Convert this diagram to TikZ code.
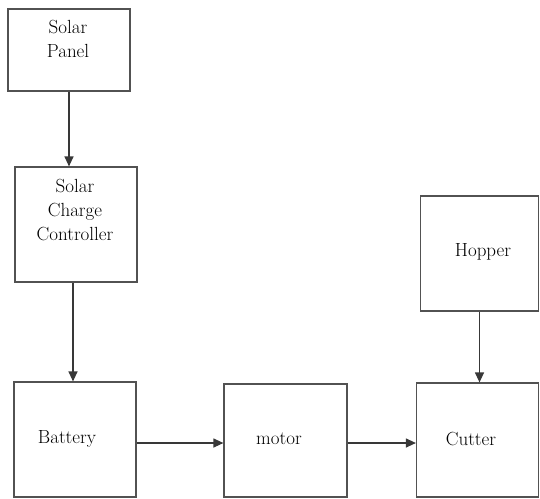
\documentclass[tikz,border=0pt]{standalone}
\usetikzlibrary{arrows.meta}
\begin{document}
\begin{tikzpicture}[x=1pt,y=-1pt,
  blk/.style={draw=black!68,line width=1.2pt,rectangle,inner sep=0pt,fill=white},
  txt/.style={font=\fontsize{19}{24}\selectfont,align=center,inner sep=0pt,text=black},
  arr/.style={draw=black!78,line width=1.2pt,-{Triangle[length=10pt,width=9pt]}}]
\useasboundingbox (0,0) rectangle (540,498);
\node[blk,minimum width=122pt,minimum height=82pt] (panel) at (69,50) {};
\node[blk,minimum width=122pt,minimum height=115pt] (scc) at (76,224.5) {};
\node[blk,minimum width=122pt,minimum height=115pt] (battery) at (75,439.5) {};
\node[blk,minimum width=123pt,minimum height=113pt] (motor) at (285.5,440.5) {};
\node[blk,minimum width=122pt,minimum height=114pt] (cutter) at (477.5,440) {};
\node[blk,minimum width=118pt,minimum height=115pt] (hopper) at (479.5,253.5) {};
\node[txt] (tpanel) at (68,39) {Solar\\Panel};
\node[txt] (tscc) at (75,210) {Solar\\Charge\\Controller};
\node[txt] (tbattery) at (67,439) {Battery};
\node[txt] (tmotor) at (279,439) {motor};
\node[txt] (tcutter) at (471,439) {Cutter};
\node[txt] (thopper) at (483,252) {Hopper};
\draw[arr] (panel.south) -- (panel.south |- scc.north);
\draw[arr] ([xshift=-3pt]scc.south) -- ([xshift=-3pt]scc.south |- battery.north);
\draw[arr] ([yshift=-3.5pt]battery.east) -- ([yshift=-3.5pt]battery.east -| motor.west);
\draw[arr] ([yshift=-2.5pt]motor.east) -- ([yshift=-2.5pt]motor.east -| cutter.west);
\draw[arr] (hopper.south) -- (hopper.south |- cutter.north);
\end{tikzpicture}
\end{document}
